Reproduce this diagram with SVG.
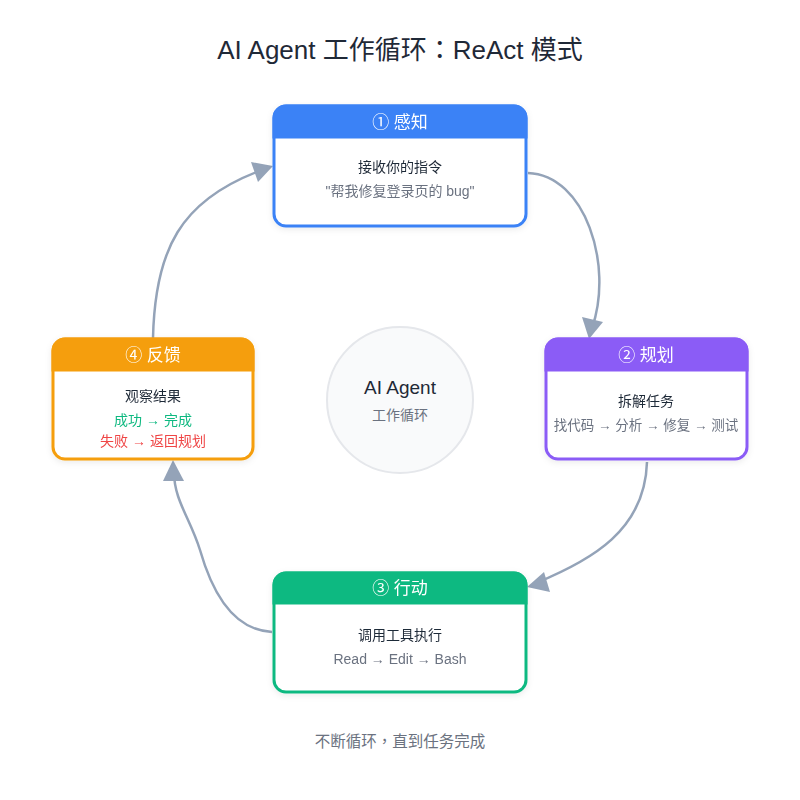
<svg xmlns="http://www.w3.org/2000/svg" width="800" height="800" viewBox="0 0 800 800">
<defs>
<filter id="sh" x="-10%" y="-10%" width="120%" height="130%">
<feDropShadow dx="0" dy="2" stdDeviation="3" flood-color="#000" flood-opacity="0.08"/>
</filter>
</defs>
<style>
text{font-family:"Liberation Sans","Noto Sans CJK SC",sans-serif;text-anchor:middle}
.tc{font-family:"Noto Sans CJK TC",sans-serif}
.title{font-size:26px;fill:#1f2937}
.hd{font-size:17px;fill:#fff}
.b1{font-size:14px;fill:#1f2937}
.b2{font-size:14px;fill:#6b7280}
.box{fill:#fff;stroke-width:3}
.conn{fill:none;stroke:#94a3b8;stroke-width:2.5}
.ah{fill:#94a3b8}
</style>
<rect width="800" height="800" fill="#fff"/>
<text class="title" x="400" y="59">AI Agent 工作循环<tspan class="tc">：</tspan>ReAct 模式</text>

<g id="connectors">
<path class="conn" d="M528,173 C585,175 614,265 592,328" />
<path class="conn" d="M647,462 C645,530 592,560 536,583" />
<path class="conn" d="M272,632 C230,630 210,585 200,550 C190,518 174,500 174,472" />
<path class="conn" d="M153,338 C155,250 180,200 262,170" />
<path class="ah" d="M589,339 L582,317 L603,322 Z"/>
<path class="ah" d="M527,587 L544,572 L550,592 Z"/>
<path class="ah" d="M173,460 L163,481 L184,481 Z"/>
<path class="ah" d="M273,166 L251,162 L258,182 Z"/>
</g>

<g id="center">
<circle cx="400" cy="400" r="73" fill="#f9fafb" stroke="#e5e7eb" stroke-width="2"/>
<text x="400" y="394" style="font-size:19px;fill:#1f2937">AI Agent</text>
<text x="400" y="420" style="font-size:14px;fill:#6b7280">工作循环</text>
</g>

<g id="node1" filter="url(#sh)">
<rect class="box" x="274" y="106" width="252" height="120" rx="12" stroke="#3b82f6"/>
<path d="M274,137 V118 A12,12 0 0 1 286,106 H514 A12,12 0 0 1 526,118 V137 Z" fill="#3b82f6" stroke="#3b82f6" stroke-width="3"/>
<text class="hd" x="400" y="128">① 感知</text>
<text class="b1" x="400" y="172">接收你的指令</text>
<text class="b2" x="400" y="196">"帮我修复登录页的 bug"</text>
</g>

<g id="node2" filter="url(#sh)">
<rect class="box" x="546" y="339" width="201" height="120" rx="12" stroke="#8b5cf6"/>
<path d="M546,370 V351 A12,12 0 0 1 558,339 H735 A12,12 0 0 1 747,351 V370 Z" fill="#8b5cf6" stroke="#8b5cf6" stroke-width="3"/>
<text class="hd" x="646" y="361">② 规划</text>
<text class="b1" x="646" y="406">拆解任务</text>
<text class="b2" x="646" y="430" style="font-size:13.5px">找代码 → 分析 → 修复 → 测试</text>
</g>

<g id="node3" filter="url(#sh)">
<rect class="box" x="274" y="573" width="252" height="119" rx="12" stroke="#10b981"/>
<path d="M274,603 V585 A12,12 0 0 1 286,573 H514 A12,12 0 0 1 526,585 V603 Z" fill="#10b981" stroke="#10b981" stroke-width="3"/>
<text class="hd" x="400" y="594">③ 行动</text>
<text class="b1" x="400" y="640">调用工具执行</text>
<text class="b2" x="400" y="664">Read → Edit → Bash</text>
</g>

<g id="node4" filter="url(#sh)">
<rect class="box" x="53" y="339" width="200" height="120" rx="12" stroke="#f59e0b"/>
<path d="M53,370 V351 A12,12 0 0 1 65,339 H241 A12,12 0 0 1 253,351 V370 Z" fill="#f59e0b" stroke="#f59e0b" stroke-width="3"/>
<text class="hd" x="153" y="361">④ 反馈</text>
<text class="b1" x="153" y="401">观察结果</text>
<text x="153" y="425" style="font-size:14px;fill:#10b981">成功 → 完成</text>
<text x="153" y="446" style="font-size:14px;fill:#ef4444">失败 → 返回规划</text>
</g>

<text x="400" y="747" style="font-size:15.5px;fill:#6b7280">不断循环<tspan class="tc">，</tspan>直到任务完成</text>
</svg>
